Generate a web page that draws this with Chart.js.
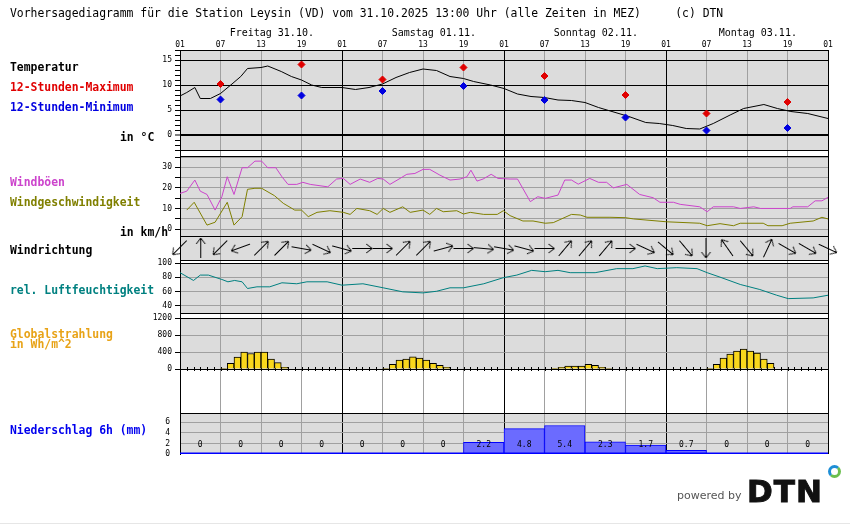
<!DOCTYPE html>
<html lang="de">
<head>
<meta charset="utf-8">
<title>Vorhersagediagramm Leysin</title>
<script src="https://cdn.jsdelivr.net/npm/chart.js@4.4.1/dist/chart.umd.min.js"></script>
<style>
  body { margin: 0; background: #fff; }
  #page { position: relative; width: 850px; height: 524px; overflow: hidden; font-family: 'DejaVu Sans Mono', monospace; }
  #meteo { position: absolute; left: 0; top: 0; }
  .txt { position: absolute; white-space: pre; font-size: 11.4px; line-height: 12px; font-weight: bold; color: #000; }
</style>
</head>
<body>
<div id="page">
  <canvas id="meteo" width="850" height="524"></canvas>
  <div class="txt" style="left:10px;top:7px;font-weight:normal">Vorhersagediagramm für die Station Leysin (VD) vom 31.10.2025 13:00 Uhr (alle Zeiten in MEZ)     (c) DTN</div>
  <div class="txt" style="left:10px;top:61px">Temperatur</div>
  <div class="txt" style="left:10px;top:81px;color:#e00000">12-Stunden-Maximum</div>
  <div class="txt" style="left:10px;top:101px;color:#0000e0">12-Stunden-Minimum</div>
  <div class="txt" style="left:120px;top:131px">in °C</div>
  <div class="txt" style="left:10px;top:176px;color:#cc44cc">Windböen</div>
  <div class="txt" style="left:10px;top:196px;color:#808000">Windgeschwindigkeit</div>
  <div class="txt" style="left:120px;top:226px">in km/h</div>
  <div class="txt" style="left:10px;top:244px">Windrichtung</div>
  <div class="txt" style="left:10px;top:284px;color:#008080">rel. Luftfeuchtigkeit</div>
  <div class="txt" style="left:10px;top:329px;line-height:10px;color:#e8a317">Globalstrahlung<br>in Wh/m^2</div>
  <div class="txt" style="left:10px;top:424px;color:#0000ee">Niederschlag 6h (mm)</div>
  <div style="position:absolute;left:677px;top:489px;font-family:'DejaVu Sans',sans-serif;font-size:11px;line-height:13px;color:#555">powered by</div>
  <div style="position:absolute;left:747px;top:476px;font-family:'DejaVu Sans',sans-serif;font-weight:bold;font-size:31px;line-height:30px;letter-spacing:1px;color:#111;-webkit-text-stroke:1px #111">DTN</div>
  <div style="position:absolute;left:828px;top:465px;width:7px;height:7px;border-radius:50%;border:3px solid;border-color:#1d8ed6 #6bbf4e #6bbf4e #1d8ed6"></div>
  <div style="position:absolute;left:0;top:523px;width:850px;height:1px;background:#e6e6e6"></div>
</div>
<script>
// Zeitachse in Stunden ab Freitag 31.10. 01:00 (0) bis Dienstag 04.11. 01:00 (96)
const dayLabels = ['Freitag 31.10.', 'Samstag 01.11.', 'Sonntag 02.11.', 'Montag 03.11.'];
const hourTicks = [0, 6, 12, 18, 24, 30, 36, 42, 48, 54, 60, 66, 72, 78, 84, 90, 96];

const tempHours = [0, 1, 2.2, 3, 4.5, 6, 7.7, 9, 10, 12, 13, 15, 16.5, 18, 19.5, 21, 24, 26, 28, 30, 32, 34, 36, 38, 40, 42, 43.5, 46, 48, 50, 52, 54, 56, 58, 60, 62, 64, 66.5, 69, 71, 73, 75, 77, 79, 81.5, 83.5, 86.5, 88.5, 90.5, 93, 96];
const tempValues = [7.8, 8.5, 9.5, 7.3, 7.3, 8.3, 10.2, 11.7, 13.3, 13.5, 13.8, 12.7, 11.7, 11.0, 10.0, 9.5, 9.5, 9.1, 9.5, 10.2, 11.5, 12.5, 13.2, 12.9, 11.7, 11.3, 10.7, 10.0, 9.3, 8.2, 7.7, 7.5, 7.0, 6.9, 6.5, 5.5, 4.7, 3.7, 2.5, 2.3, 1.9, 1.3, 1.2, 2.3, 4.0, 5.3, 6.1, 5.3, 4.7, 4.3, 3.3];

const extremeHours = [6, 18, 30, 42, 54, 66, 78, 90];
const maxValues = [10.2, 14.1, 11.1, 13.5, 11.8, 8.0, 4.3, 6.6];
const minValues = [7.1, 7.9, 8.8, 9.8, 7.0, 3.5, 0.9, 1.4];

const gustHours = [0, 1, 2.2, 3, 4, 5.2, 6.2, 7, 8, 9.2, 10, 11.1, 12.1, 13, 14.2, 15.1, 16, 17.3, 18.2, 19.3, 21.9, 23.2, 24.2, 25.2, 26.7, 28.1, 29.3, 30.1, 31.1, 32.6, 33.6, 34.8, 36, 37, 38.5, 40, 41.5, 42.5, 43.1, 44, 44.9, 46.1, 47.1, 48.9, 50, 51.9, 53, 54.1, 56, 57, 58, 59, 60.7, 62, 63.2, 64.2, 66.2, 68.1, 70.1, 71.1, 73.1, 74.1, 77, 78.1, 79, 82, 83, 85, 86, 90.4, 90.8, 93, 94.1, 95.1, 96];
const gustValues = [17.3, 18.4, 23.8, 18.4, 16.8, 9.2, 15.7, 25.4, 16.8, 29.8, 29.8, 33, 33, 29.8, 29.8, 25.4, 21.7, 21.7, 22.7, 21.7, 20.5, 24.3, 24.6, 21.7, 24.3, 22.7, 24.6, 24.3, 21.7, 24.6, 26.6, 27, 29, 29, 26.2, 23.8, 24.3, 25.4, 28.6, 23.3, 24.3, 26.6, 24.6, 24.3, 24.3, 13.3, 15.7, 14.9, 16.5, 23.8, 23.8, 21.8, 24.6, 22.7, 22.7, 20, 21.7, 16.8, 15.2, 13, 13, 12, 10.8, 8.4, 10.8, 10.8, 10, 10.8, 10, 10, 10.8, 10.8, 13.7, 13.7, 15.4];

const windHours = [1, 2.1, 4, 5.2, 7, 8, 9.2, 10, 11.1, 12.1, 14, 15.3, 17, 18, 19, 20.3, 22.2, 24.2, 25.2, 26.2, 28.1, 29.2, 30.1, 31.1, 33, 34.1, 36, 37, 38, 39, 41, 42, 43, 45, 47, 47.9, 48.9, 50.8, 52.3, 54.1, 55.3, 58, 59.3, 60.3, 63.7, 66, 67.2, 72.1, 77, 78.1, 80, 82, 83, 86.4, 87.1, 89.2, 90.4, 93.8, 95.1, 96];
const windValues = [9.2, 13, 1.9, 3.3, 13, 1.9, 6, 19.3, 19.8, 19.8, 16.2, 12.5, 9.2, 9.2, 6, 8.1, 8.9, 8.1, 7.1, 10, 8.9, 7.1, 10, 8.1, 10.8, 8.1, 9.2, 7.1, 10, 8.4, 8.9, 7.3, 8.1, 7.1, 7.1, 8.9, 6.5, 3.9, 3.9, 2.8, 3.1, 7.1, 6.8, 5.7, 5.7, 5.5, 4.9, 3.5, 2.8, 1.6, 2.6, 1.6, 2.8, 2.8, 1.6, 1.6, 2.8, 3.9, 5.7, 4.9];

// Windrichtung: Pfeilwinkel in Grad (0 = nach rechts, im Uhrzeigersinn), alle 3 Stunden
const dirHours = [0, 3, 6, 9, 12, 15, 18, 21, 24, 27, 30, 33, 36, 39, 42, 45, 48, 51, 54, 57, 60, 63, 66, 69, 72, 75, 78, 81, 84, 87, 90, 93, 96];
const dirAngles = [135, -90, 135, 160, -45, -45, 10, 25, 15, 0, 0, -45, -45, -15, 0, 5, 10, 15, 0, -50, -50, -50, 0, 25, 40, 50, 90, -125, 50, -65, 30, 30, 25];

const humHours = [0, 2, 3, 4.2, 6.2, 7.1, 8.1, 9.2, 10, 11.4, 13.3, 15.1, 17.3, 18.8, 21.8, 24, 27.1, 30.1, 33, 36, 38, 40, 42, 45, 47.9, 49.9, 52.1, 54.1, 56, 57.8, 61.5, 64.7, 67.1, 68.9, 70.7, 73.6, 76.6, 78.1, 80, 83, 85.9, 88.4, 90.1, 93.8, 96];
const humValues = [86.7, 75.7, 83.3, 83.3, 77.1, 73.8, 75.7, 73.8, 64.3, 66.7, 66.7, 72.4, 71, 73.8, 73.8, 69, 71, 65.3, 59.6, 58.1, 60.4, 65.3, 65.3, 71, 79.6, 83.3, 90, 88.1, 90, 86.7, 86.7, 92.4, 92.4, 96.2, 92.4, 93.8, 92.4, 86.7, 80.4, 70, 62.9, 54.8, 50, 51, 54.8];

// Globalstrahlung: Stundenbeginn und Wert
const radHours = [6, 7, 8, 9, 10, 11, 12, 13, 14, 15, 30, 31, 32, 33, 34, 35, 36, 37, 38, 39, 55, 56, 57, 58, 59, 60, 61, 62, 63, 78, 79, 80, 81, 82, 83, 84, 85, 86, 87];
const radValues = [10, 137, 281, 400, 367, 400, 400, 233, 152, 40, 10, 113, 209, 233, 288, 257, 209, 137, 88, 40, 5, 40, 72, 72, 72, 113, 88, 40, 10, 10, 113, 257, 353, 425, 473, 425, 377, 233, 137];

// Niederschlag je 6 Stunden, ab Freitag 01-07
const precipValues = [0, 0, 0, 0, 0, 0, 0, 2.2, 4.8, 5.4, 2.3, 1.7, 0.7, 0, 0, 0];

const tempTicks = [-3, -2, -1, 0, 1, 2, 3, 4, 5, 6, 7, 8, 9, 10, 11, 12, 13, 14, 15, 16, 17];
const windTicks = [0, 5, 10, 15, 20, 25, 30, 35];
const humTicks = [40, 60, 80, 100];
const radTicks = [0, 400, 800, 1200];
const precipTicks = [0, 2, 4, 6];

const GRID = '#a0a0a0';
const NONE = 'rgba(0,0,0,0)';

Chart.defaults.font.family = "'DejaVu Sans Mono', monospace";
Chart.defaults.color = '#000';

const pts = (xs, ys) => xs.map((x, i) => ({x: x, y: ys[i]}));

function makeArrow() {
    const c = document.createElement('canvas');
    c.width = 24;
    c.height = 24;
    const g = c.getContext('2d');
    g.strokeStyle = '#000';
    g.lineWidth = 1;
    g.beginPath();
    g.moveTo(2, 12.5);
    g.lineTo(22, 12.5);
    g.moveTo(16, 8);
    g.lineTo(22, 12.5);
    g.lineTo(16, 17);
    g.stroke();
    return c;
}

function setTicks(list) {
    return function(scale) {
        scale.ticks = list.map(v => ({value: v}));
    };
}

function leftAxis(weight, stackWeight, min, max, extra) {
    return Object.assign({
        type: 'linear',
        position: 'left',
        stack: 'panel',
        stackWeight: stackWeight,
        weight: weight,
        min: min,
        max: max,
        afterFit: s => { s.width = 180; },
        border: {color: '#000', width: 1},
        ticks: {display: false},
        grid: {display: false}
    }, extra);
}

const grayPanels = ['yT', 'yW', 'yD', 'yH', 'yR', 'yP'];

const panelPlugin = {
    id: 'panels',
    beforeDraw(chart) {
        const {ctx, chartArea: a, scales} = chart;
        ctx.save();
        ctx.fillStyle = '#dcdcdc';
        grayPanels.forEach(id => {
            const s = scales[id];
            ctx.fillRect(a.left, s.top, a.right - a.left, s.bottom - s.top);
        });
        ctx.restore();
    },
    beforeDatasetsDraw(chart) {
        const {ctx, chartArea: a, scales} = chart;
        ctx.save();
        ctx.strokeStyle = '#000';
        ctx.lineWidth = 1;
        ctx.beginPath();
        grayPanels.forEach(id => {
            const s = scales[id];
            const edges = id === 'yP' ? [s.top] : [s.top, s.bottom];
            edges.forEach(y => {
                const yy = Math.round(y) + 0.5;
                ctx.moveTo(a.left, yy);
                ctx.lineTo(a.right, yy);
            });
        });
        ctx.stroke();
        // Stundenmarken auf der Nulllinie der Strahlung
        const y0 = scales.yR.getPixelForValue(0);
        ctx.beginPath();
        for (let h = 1; h < 96; h++) {
            const x = Math.round(scales.x.getPixelForValue(h)) + 0.5;
            ctx.moveTo(x, y0 - 2);
            ctx.lineTo(x, y0 + 2);
        }
        ctx.stroke();
        ctx.restore();
    },
    afterDatasetsDraw(chart) {
        const {ctx, chartArea: a, scales} = chart;
        const yP = scales.yP;
        ctx.save();
        ctx.strokeStyle = '#0000ff';
        ctx.lineWidth = 1.5;
        ctx.beginPath();
        ctx.moveTo(a.left, yP.bottom - 0.75);
        ctx.lineTo(a.right, yP.bottom - 0.75);
        ctx.stroke();
        ctx.fillStyle = '#000';
        ctx.font = "8px 'DejaVu Sans Mono'";
        ctx.textAlign = 'center';
        ctx.textBaseline = 'middle';
        const meta = chart.getDatasetMeta(chart.data.datasets.length - 1);
        meta.data.forEach((bar, i) => {
            const v = precipValues[i];
            ctx.fillText(v === 0 ? '0' : v.toFixed(1), bar.x, yP.getPixelForValue(0) - 9);
        });
        ctx.restore();
    }
};

const arrow = makeArrow();

new Chart(document.getElementById('meteo'), {
    type: 'line',
    data: {
        datasets: [
            {
                type: 'line', showLine: false, xAxisID: 'x', yAxisID: 'yT',
                data: pts(extremeHours, maxValues),
                pointStyle: 'rectRot', pointRadius: 3.5,
                pointBackgroundColor: '#e00000', pointBorderColor: '#e00000', pointBorderWidth: 1
            },
            {
                type: 'line', showLine: false, xAxisID: 'x', yAxisID: 'yT',
                data: pts(extremeHours, minValues),
                pointStyle: 'rectRot', pointRadius: 3.5,
                pointBackgroundColor: '#0000e0', pointBorderColor: '#0000e0', pointBorderWidth: 1
            },
            {
                type: 'line', xAxisID: 'x', yAxisID: 'yT',
                data: pts(tempHours, tempValues),
                borderColor: '#000', borderWidth: 1, pointRadius: 0, tension: 0
            },
            {
                type: 'line', xAxisID: 'x', yAxisID: 'yW',
                data: pts(gustHours, gustValues),
                borderColor: '#cc44cc', borderWidth: 1, pointRadius: 0, tension: 0
            },
            {
                type: 'line', xAxisID: 'x', yAxisID: 'yW',
                data: pts(windHours, windValues),
                borderColor: '#808000', borderWidth: 1, pointRadius: 0, tension: 0
            },
            {
                type: 'line', showLine: false, xAxisID: 'x', yAxisID: 'yD', clip: false,
                data: dirHours.map(h => ({x: h, y: 0})),
                pointStyle: arrow, pointRadius: 10,
                pointRotation: ctx => dirAngles[ctx.dataIndex]
            },
            {
                type: 'line', xAxisID: 'x', yAxisID: 'yH',
                data: pts(humHours, humValues),
                borderColor: '#008080', borderWidth: 1, pointRadius: 0, tension: 0
            },
            {
                type: 'bar', xAxisID: 'x', yAxisID: 'yR', grouped: false,
                data: radHours.map((h, i) => ({x: h + 0.5, y: radValues[i]})),
                backgroundColor: '#f9d71c', borderColor: '#000', borderWidth: 1,
                barPercentage: 1, categoryPercentage: 1
            },
            {
                type: 'bar', xAxisID: 'xP', yAxisID: 'yP', grouped: false,
                data: precipValues.map((v, i) => ({x: i * 6 + 3, y: v})),
                backgroundColor: '#6b6bff', borderColor: '#0000ff', borderWidth: 1,
                barPercentage: 1, categoryPercentage: 1
            }
        ]
    },
    options: {
        responsive: false,
        devicePixelRatio: 1,
        animation: false,
        events: [],
        layout: {padding: {top: 20, right: 22, bottom: 70, left: 0}},
        plugins: {legend: {display: false}, tooltip: {enabled: false}},
        scales: {
            xDay: {
                type: 'linear', position: 'top', weight: 2, min: 0, max: 96, offset: false,
                afterBuildTicks: setTicks(dayLabels.map((d, i) => i * 24 + 13.6)),
                afterFit: s => { s.height = 18; },
                ticks: {autoSkip: false, maxRotation: 0, padding: -9, font: {size: 10}, callback: (v, i) => dayLabels[i]},
                grid: {display: false},
                border: {display: false}
            },
            x: {
                type: 'linear', position: 'top', weight: 1, min: 0, max: 96, offset: false,
                afterBuildTicks: setTicks(hourTicks),
                afterFit: s => { s.height = 12; },
                ticks: {autoSkip: false, maxRotation: 0, padding: 0, font: {size: 8},
                    callback: v => String((v + 1) % 24).padStart(2, '0')},
                grid: {offset: false, drawTicks: false, color: c => c.tick && c.tick.value % 24 === 0 ? '#000' : GRID},
                border: {display: false}
            },
            xP: {
                type: 'linear', position: 'bottom', display: false, min: 0, max: 96, offset: false,
                afterBuildTicks: setTicks(hourTicks),
                grid: {offset: false}
            },
            yT: leftAxis(10, 100, -3, 17, {
                afterBuildTicks: setTicks(tempTicks),
                ticks: {autoSkip: false, padding: 3, font: {size: 8}, callback: v => v % 5 === 0 ? String(v) : ''},
                grid: {tickLength: 5, tickColor: '#000', tickWidth: 1,
                    color: c => c.tick.value % 5 === 0 && c.tick.value > -3 ? '#000' : NONE,
                    lineWidth: c => c.tick.value === 0 ? 2 : 1}
            }),
            yGap1: leftAxis(9, 6, 0, 1, {}),
            yW: leftAxis(8, 80, -3.4, 35.5, {
                afterBuildTicks: setTicks(windTicks),
                ticks: {autoSkip: false, padding: 3, font: {size: 8}, callback: v => v % 10 === 0 ? String(v) : ''},
                grid: {tickLength: 5, tickColor: '#000', color: GRID}
            }),
            yD: leftAxis(7, 24, -1, 1, {}),
            yGap2: leftAxis(6, 3, 0, 1, {}),
            yH: leftAxis(5, 50, 29.65, 100.4, {
                afterBuildTicks: setTicks(humTicks),
                ticks: {autoSkip: false, padding: 3, font: {size: 8}, callback: v => String(v)},
                grid: {tickLength: 5, tickColor: '#000', color: c => c.tick.value === 100 ? NONE : GRID}
            }),
            yGap3: leftAxis(4, 5, 0, 1, {}),
            yR: leftAxis(3, 51, 0, 1207, {
                afterBuildTicks: setTicks(radTicks),
                ticks: {autoSkip: false, padding: 3, font: {size: 8}, callback: v => String(v)},
                grid: {tickLength: 5, tickColor: '#000', color: c => c.tick.value === 400 || c.tick.value === 800 ? GRID : NONE}
            }),
            yGap4: leftAxis(2, 44, 0, 1, {}),
            yP: leftAxis(1, 41, 0, 7.76, {
                afterBuildTicks: setTicks(precipTicks),
                ticks: {autoSkip: false, padding: 10, font: {size: 8}, callback: v => String(v)},
                grid: {drawTicks: false, color: c => c.tick.value === 0 ? NONE : GRID}
            })
        }
    },
    plugins: [panelPlugin]
});
</script>
</body>
</html>
